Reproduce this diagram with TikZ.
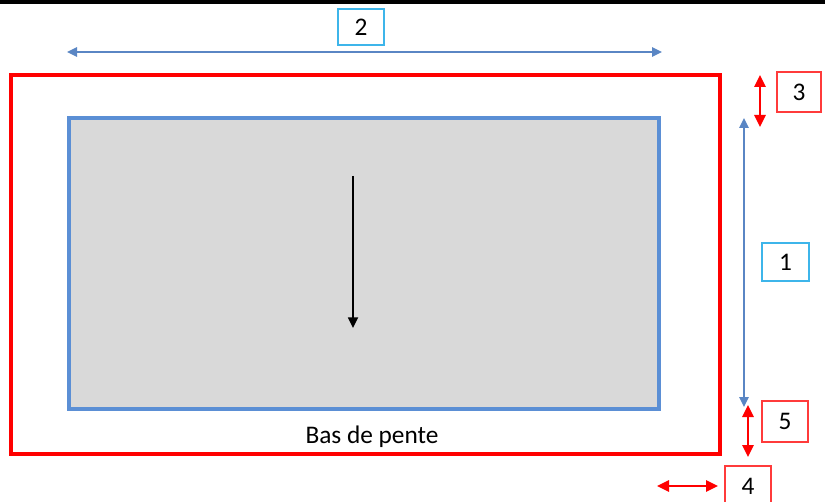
\documentclass[tikz,border=0pt]{standalone}
\usepackage{fontspec}
\setmainfont{Carlito}
\usetikzlibrary{arrows.meta}
\definecolor{rrect}{HTML}{FF0000}
\definecolor{brect}{HTML}{5B8FD5}
\definecolor{gfill}{HTML}{D9D9D9}
\definecolor{barrow}{HTML}{5A86C4}
\definecolor{cyanb}{HTML}{3DB5EA}
\definecolor{redb}{HTML}{FF3B3B}
\tikzset{
  lbox/.style={draw, line width=1.2pt, fill=white, inner sep=0pt, font=\fontsize{19}{22}\selectfont, text=black},
  cbox/.style={lbox, draw=cyanb},
  rbox/.style={lbox, draw=redb},
  bdim/.style={draw=barrow, line width=1.5pt, {Triangle[length=7.5pt,width=7pt]}-{Triangle[length=7.5pt,width=7pt]}},
  rdim/.style={draw=red, line width=1.5pt, {Triangle[length=9pt,width=8.5pt]}-{Triangle[length=9pt,width=8.5pt]}},
  slope/.style={draw=black, line width=1.3pt, -{Triangle[length=8pt,width=7.5pt]}}
}
\begin{document}
\begin{tikzpicture}[x=0.75pt,y=-0.75pt]
\useasboundingbox (0,0) rectangle (825,502);
\clip (0,0) rectangle (825,502);
\fill[white] (0,0) rectangle (825,502);
\fill[black] (0,0) rectangle (825,4);
% outer red frame
\draw[rrect, line width=2.6pt] (11,75) rectangle (720,454);
% inner grey rectangle
\draw[brect, line width=2.6pt, fill=gfill] (69,118) rectangle (659,409);
% label boxes
\node[cbox, minimum width=34.5pt, minimum height=27pt] (b2) at (361,27) {2};
\node[rbox, minimum width=33pt, minimum height=30pt] (b3) at (799,92) {3};
\node[cbox, minimum width=35pt, minimum height=28.5pt] (b1) at (785.5,262) {1};
\node[rbox, minimum width=34.5pt, minimum height=30.5pt] (b5) at (785,421.5) {5};
\node[rbox, minimum width=34.5pt, minimum height=30pt] (b4) at (748,486) {4};
\node[font=\fontsize{19}{22}\selectfont] (bas) at (372,437) {Bas de pente};
% dimension arrow ends
\coordinate (a2l) at (67,52);
\coordinate (a2r) at (662,52);
\coordinate (a3t) at (760,75);
\coordinate (a3b) at (760,127);
\coordinate (a1t) at (744,118);
\coordinate (a1b) at (744,407);
\coordinate (a5t) at (748,405);
\coordinate (a5b) at (748,457);
\coordinate (a4l) at (657,486);
\coordinate (a4r) at (718,486);
\coordinate (st) at (353,176);
\coordinate (sb) at (353,328);
\draw[bdim] (a2l) -- (a2r);
\draw[bdim] (a1t) -- (a1b);
\draw[rdim] (a3t) -- (a3b);
\draw[rdim] (a5t) -- (a5b);
\draw[rdim] (a4l) -- (a4r);
\draw[slope] (st) -- (sb);
\end{tikzpicture}
\end{document}
